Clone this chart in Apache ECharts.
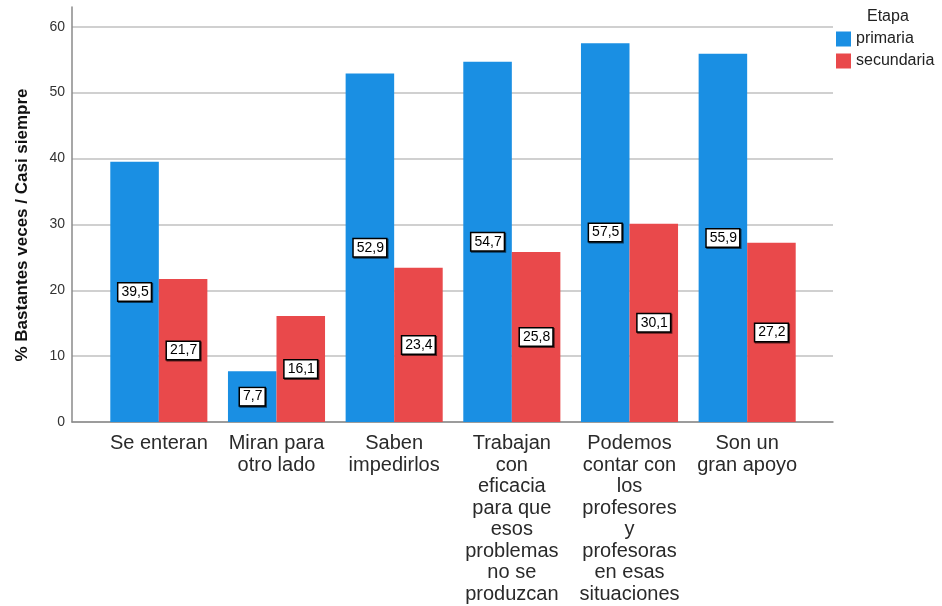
<!DOCTYPE html>
<html>
<head>
<meta charset="utf-8">
<script src="https://cdn.jsdelivr.net/npm/echarts@6/dist/echarts.min.js"></script>
<style>
html,body{margin:0;padding:0;background:#fff;}
#main{width:942px;height:606px;}
</style>
</head>
<body>
<div id="main"></div>
<script>
var categories = [
  'Se enteran',
  'Miran para\notro lado',
  'Saben\nimpedirlos',
  'Trabajan\ncon\neficacia\npara que\nesos\nproblemas\nno se\nproduzcan',
  'Podemos\ncontar con\nlos\nprofesores\ny\nprofesoras\nen esas\nsituaciones',
  'Son un\ngran apoyo'
];
var primaria = [39.5, 7.7, 52.9, 54.7, 57.5, 55.9];
var secundaria = [21.7, 16.1, 23.4, 25.8, 30.1, 27.2];
var seriesNames = ['primaria', 'secundaria'];
var legendTitle = 'Etapa';
var yTitle = '% Bastantes veces / Casi siempre';
var yMin = 0, yMax = 63, yInterval = 10;

var FONT = 'Liberation Sans, Arial, sans-serif';
var chart = echarts.init(document.getElementById('main'), null, {renderer: 'canvas'});

function fmt(v) { return String(v.toFixed(1)).replace('.', ','); }

var labelStyle = {
  show: true,
  position: 'inside',
  formatter: function (p) { return fmt(p.value); },
  color: '#000',
  fontFamily: FONT,
  fontSize: 14,
  backgroundColor: '#fff',
  borderColor: '#000',
  borderWidth: 1.5,
  padding: [2, 2, 1, 3],
  shadowColor: 'rgba(0,0,0,0.6)',
  shadowOffsetX: 1,
  shadowOffsetY: 1,
  shadowBlur: 0
};

chart.setOption({
  animation: false,
  backgroundColor: '#fff',
  grid: [
    {left: 100, right: 136, top: 7, bottom: 184},
    {left: 72, right: 109, top: 7, bottom: 184}
  ],
  xAxis: [
    {
      type: 'category', gridIndex: 0, data: categories,
      axisLine: {show: false}, axisTick: {show: false},
      axisLabel: {interval: 0, fontFamily: FONT, fontSize: 20, lineHeight: 21.5, color: '#2a2a2a', margin: 11}
    },
    {
      type: 'value', gridIndex: 1, min: 0, max: 1,
      axisLine: {show: true, onZero: false, lineStyle: {color: '#8a8a8a', width: 1.5}},
      axisTick: {show: false}, axisLabel: {show: false}, splitLine: {show: false}
    }
  ],
  yAxis: [
    {
      type: 'value', gridIndex: 0, min: yMin, max: yMax, interval: yInterval,
      axisLine: {show: false}, axisTick: {show: false}, axisLabel: {show: false}, splitLine: {show: false}
    },
    {
      type: 'value', gridIndex: 1, min: yMin, max: yMax, interval: yInterval,
      axisLine: {show: true, lineStyle: {color: '#8a8a8a', width: 1.5}},
      axisTick: {show: false},
      axisLabel: {fontFamily: FONT, fontSize: 14, color: '#333', margin: 7, showMaxLabel: false},
      splitLine: {show: true, showMaxLine: false, lineStyle: {color: '#d0d0d0', width: 2}}
    }
  ],
  legend: {
    orient: 'vertical', left: 831, top: 26,
    itemWidth: 15, itemHeight: 15, itemGap: 6,
    icon: 'rect',
    textStyle: {fontFamily: FONT, fontSize: 16, color: '#222', lineHeight: 16},
    data: seriesNames
  },
  graphic: [
    {type: 'text', left: 867, top: 9, style: {text: legendTitle, font: '16px ' + FONT, fill: '#222'}},
    {type: 'text', x: 22, y: 225, rotation: Math.PI / 2,
     style: {text: yTitle, font: 'bold 17px ' + FONT, fill: '#111', align: 'center', verticalAlign: 'middle'}}
  ],
  series: [
    {name: seriesNames[0], type: 'bar', xAxisIndex: 0, yAxisIndex: 0, data: primaria,
     barGap: '0%', barCategoryGap: '17.5%', itemStyle: {color: '#1a8fe3'}, label: labelStyle, z: 3},
    {name: seriesNames[1], type: 'bar', xAxisIndex: 0, yAxisIndex: 0, data: secundaria,
     barGap: '0%', barCategoryGap: '17.5%', itemStyle: {color: '#e9494b'}, label: labelStyle, z: 3}
  ]
});
</script>
</body>
</html>
